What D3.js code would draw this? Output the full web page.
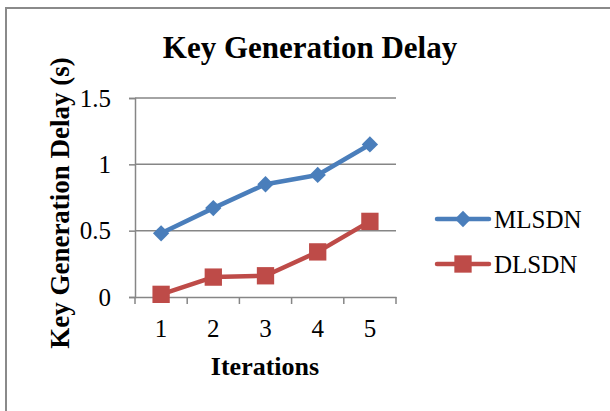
<html>
<head>
<meta charset="utf-8" />
<title>Key Generation Delay</title>
<script src="https://d3js.org/d3.v7.min.js"></script>
<style>
  body { margin: 0; background: #fff; }
  text { font-family: "Liberation Serif", "Times New Roman", serif; fill: #000; }
</style>
</head>
<body>
<script>
var iterations = ["1", "2", "3", "4", "5"];
var mlsdn = [0.48, 0.67, 0.85, 0.92, 1.15];
var dlsdn = [0.02, 0.15, 0.16, 0.34, 0.57];
var yTicks = [0, 0.5, 1, 1.5];
var seriesNames = ["MLSDN", "DLSDN"];
var seriesColors = ["#4A7EBB", "#BE4B48"];

var W = 610, H = 411;
var plot = {left: 135, right: 396, top: 98, bottom: 297};
var serif = "'Liberation Serif', 'Times New Roman', serif";

var svg = d3.select("body").append("svg")
  .attr("width", W).attr("height", H);

// chart frame
svg.append("rect")
  .attr("x", 6).attr("y", 8).attr("width", 700).attr("height", 500)
  .attr("fill", "#fff").attr("stroke", "#8a8a8a").attr("stroke-width", 2);

var x = d3.scaleBand().domain(iterations).range([plot.left, plot.right]);
var y = d3.scaleLinear().domain([0, 1.5]).range([plot.bottom, plot.top]);

// gridlines
svg.append("g").selectAll("line")
  .data(yTicks.filter(d => d > 0)).enter()
  .append("line")
  .attr("x1", plot.left).attr("x2", plot.right)
  .attr("y1", d => y(d)).attr("y2", d => y(d))
  .attr("stroke", "#868686").attr("stroke-width", 1.5);

// y axis
var yAxis = svg.append("g")
  .attr("transform", "translate(" + plot.left + ",0)")
  .call(d3.axisLeft(y).tickValues(yTicks).tickSize(6).tickPadding(18)
    .tickFormat(d => d3.format("")(d)));
yAxis.attr("font-family", serif).attr("font-size", 25);
yAxis.selectAll("line, path").attr("stroke", "#868686").attr("stroke-width", 1.5);
yAxis.selectAll("text").style("font-family", serif).style("font-size", "25px");

// x axis
var xAxis = svg.append("g")
  .attr("transform", "translate(0," + plot.bottom + ")")
  .call(d3.axisBottom(x).tickSize(0).tickPadding(22));
xAxis.attr("font-family", serif).attr("font-size", 25);
xAxis.select("path").attr("stroke", "#868686").attr("stroke-width", 1.5);
xAxis.selectAll("text").style("font-family", serif).style("font-size", "25px");
// tick marks at category boundaries
var bounds = iterations.map(d => x(d)).concat([plot.right]);
xAxis.selectAll(".bound").data(bounds).enter()
  .append("line").attr("class", "bound")
  .attr("x1", d => d).attr("x2", d => d).attr("y1", 0).attr("y2", 7)
  .attr("stroke", "#868686").attr("stroke-width", 1.5);

// series
var line = d3.line().x((d, i) => x(iterations[i]) + x.bandwidth() / 2).y(d => y(d));
var diamond = d3.symbol().type(d3.symbolDiamond2).size(170);
var square = d3.symbol().type(d3.symbolSquare).size(300);
var allSeries = [mlsdn, dlsdn];
var shapes = [diamond, square];

allSeries.forEach(function(s, k) {
  svg.append("path").datum(s)
    .attr("d", line).attr("fill", "none")
    .attr("stroke", seriesColors[k]).attr("stroke-width", 4.5)
    .attr("stroke-linejoin", "round");
  svg.append("g").selectAll("path").data(s).enter()
    .append("path")
    .attr("d", shapes[k])
    .attr("transform", (d, i) => "translate(" + (x(iterations[i]) + x.bandwidth() / 2) + "," + y(d) + ")")
    .attr("fill", seriesColors[k]);
});

// legend
var legend = svg.append("g");
seriesNames.forEach(function(n, k) {
  var ly = 219 + k * 45;
  legend.append("line").attr("x1", 437).attr("x2", 489).attr("y1", ly).attr("y2", ly)
    .attr("stroke", seriesColors[k]).attr("stroke-width", 4.5).attr("stroke-linecap", "round");
  legend.append("path").attr("d", shapes[k]).attr("transform", "translate(463," + ly + ")")
    .attr("fill", seriesColors[k]);
  legend.append("text").attr("x", 494).attr("y", ly + 8.5)
    .style("font-size", "25px").text(n);
});

// title
svg.append("text")
  .attr("x", 310).attr("y", 58).attr("text-anchor", "middle")
  .style("font-size", "31px").style("font-weight", "bold")
  .text("Key Generation Delay");

// axis titles
svg.append("text")
  .attr("transform", "translate(69,203) rotate(-90)").attr("text-anchor", "middle")
  .style("font-size", "27px").style("font-weight", "bold")
  .text("Key Generation Delay (s)");

svg.append("text")
  .attr("x", 265).attr("y", 375).attr("text-anchor", "middle")
  .style("font-size", "26px").style("font-weight", "bold")
  .text("Iterations");
</script>
</body>
</html>
